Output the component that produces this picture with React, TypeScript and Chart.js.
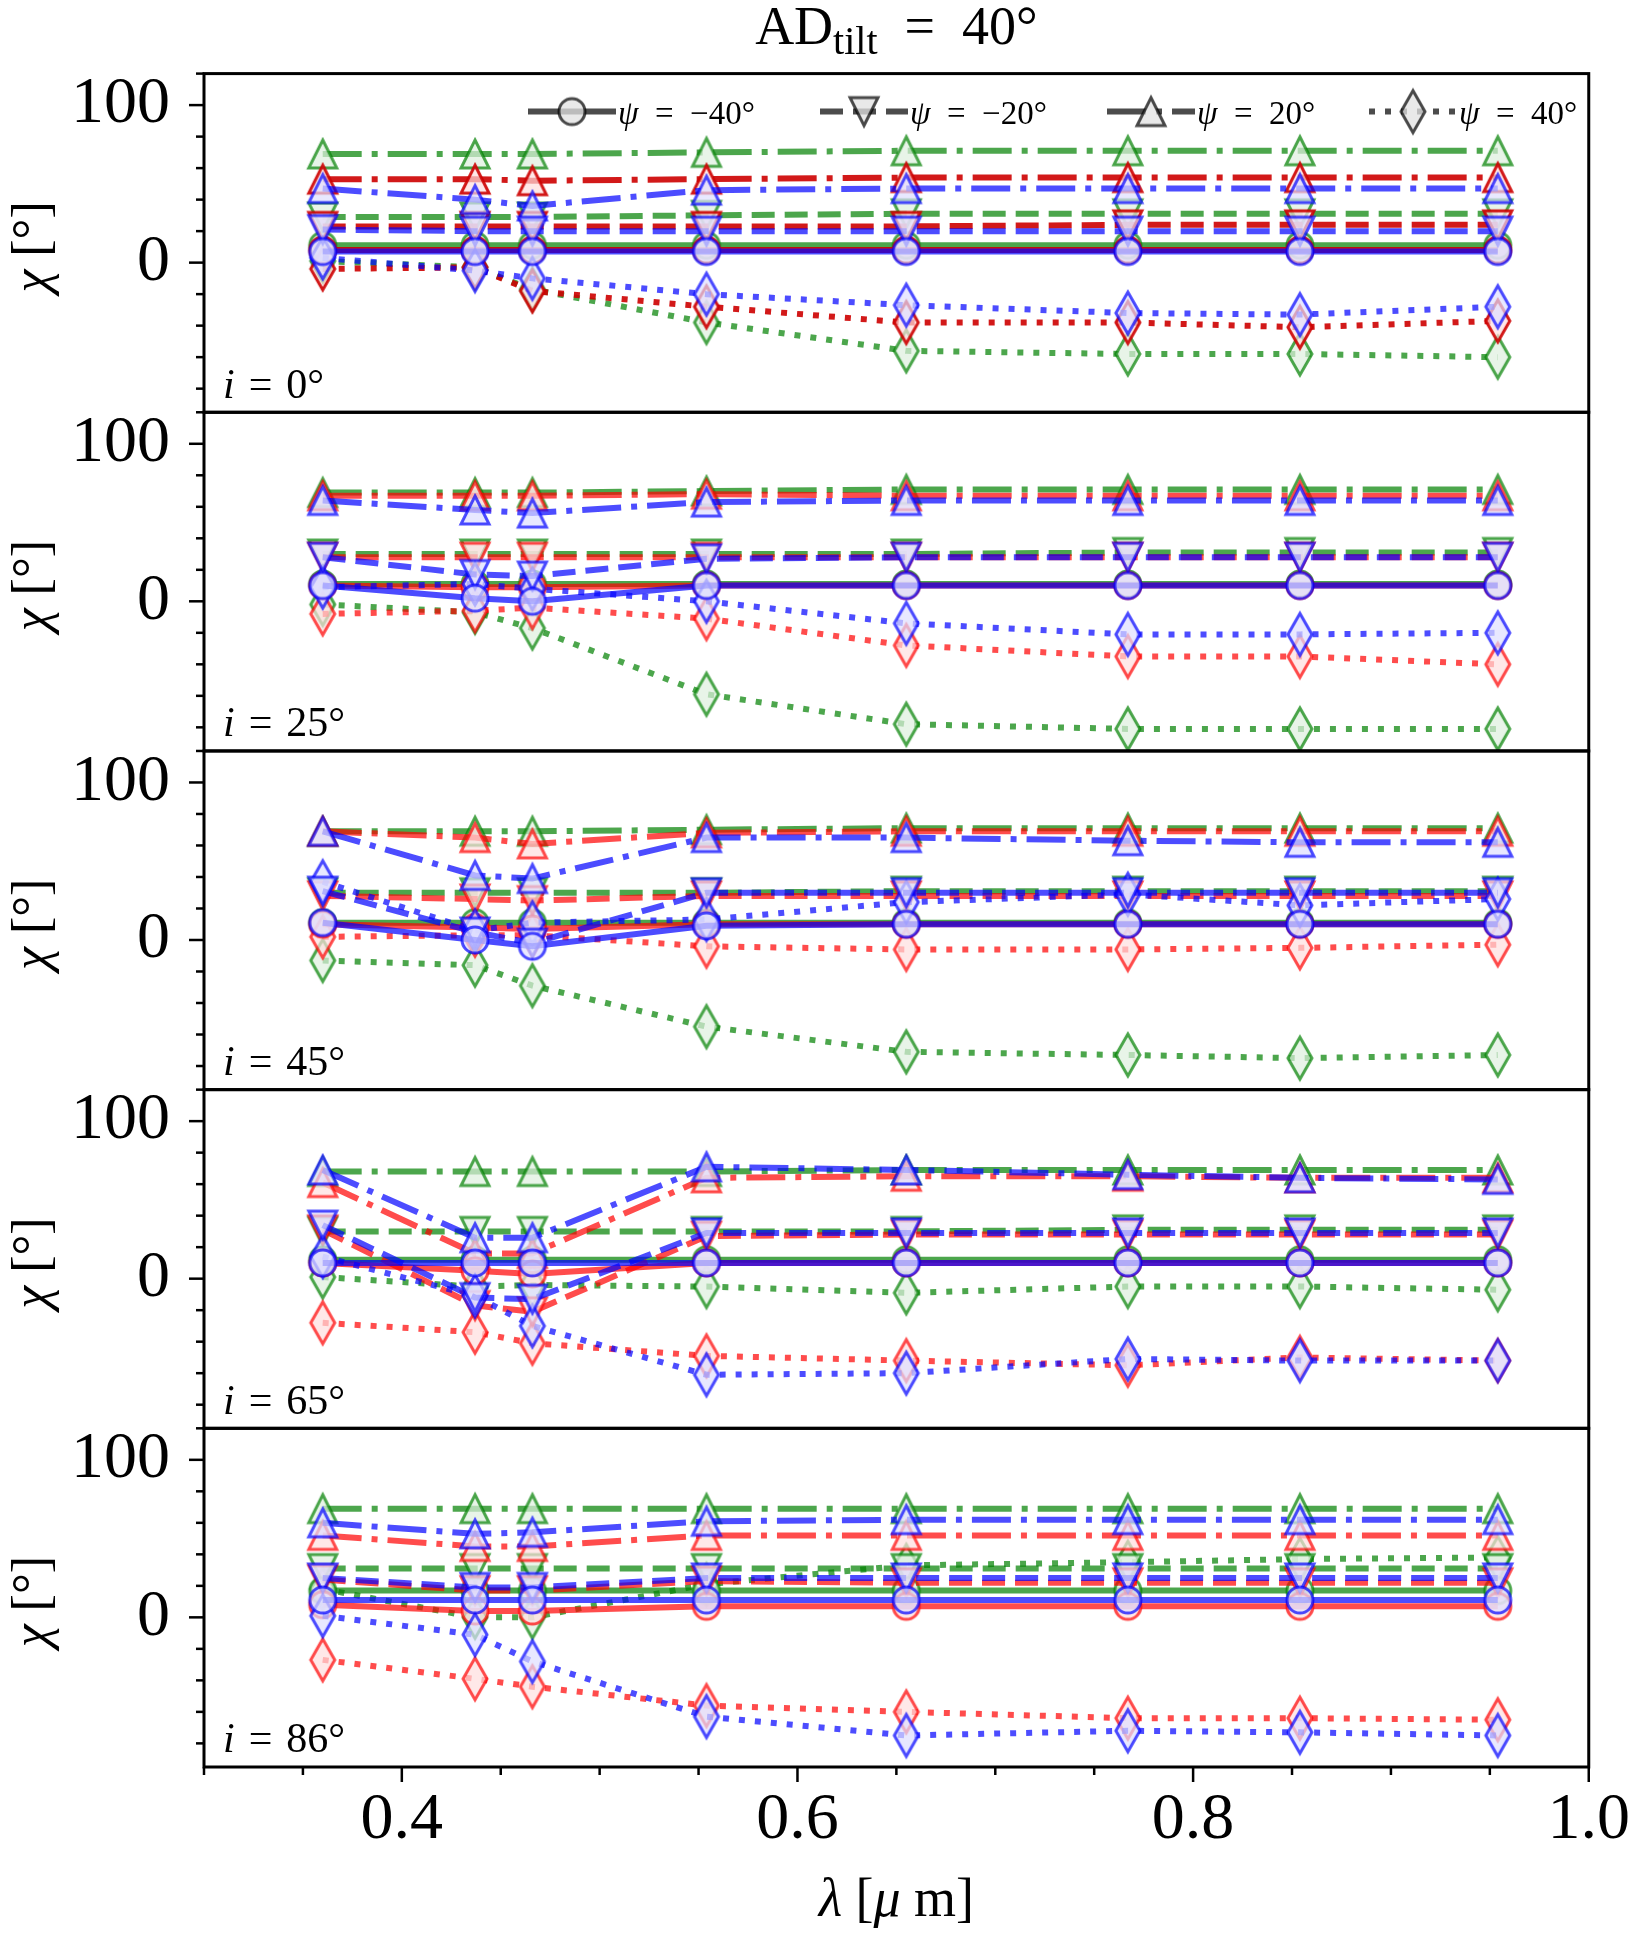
import { useEffect, useRef } from "react";
import { Chart, registerables, type Plugin } from "chart.js";

Chart.register(...registerables);

const FONT = "'Liberation Serif', 'Times New Roman', serif";

// filter wavelengths [μm]
const wavelengths = [0.36, 0.437, 0.466, 0.554, 0.655, 0.767, 0.854, 0.954];
const inclinations = [0, 25, 45, 65, 86];
const psiValues = [-40, -20, 20, 40];
const psiLabels = ["\u221240°", "\u221220°", "20°", "40°"];

// χ [°]; rows are ψ = -40, -20, 20, 40
const i0Green = [
    [11, 11, 11, 11, 11, 11, 11, 11],
    [29, 29, 29, 30, 31, 31, 31, 31],
    [69, 69, 69, 70, 71, 71, 71, 71],
    [1, -3, -17, -38, -56, -58, -58, -60],
];
const i0Red = [
    [8, 8, 8, 8, 8, 8, 8, 8],
    [23, 23, 23, 23, 23, 24, 24, 24],
    [53, 53, 52, 53, 54, 54, 54, 54],
    [-4, -3, -18, -28, -38, -38, -41, -37],
];
const i0Blue = [
    [7, 7, 7, 7, 7, 7, 7, 7],
    [21, 20, 20, 20, 20, 20, 20, 20],
    [47, 40, 36, 46, 47, 47, 47, 47],
    [3, -5, -10, -20, -27, -32, -33, -28],
];

const i25Green = [
    [11, 11, 11, 11, 11, 11, 11, 11],
    [30, 30, 30, 30, 30, 31, 31, 31],
    [69, 69, 69, 70, 71, 71, 71, 71],
    [-2, -7, -17, -59, -78, -81, -81, -81],
];
const i25Red = [
    [10, 9, 9, 10, 10, 10, 10, 10],
    [28, 28, 28, 28, 28, 28, 28, 28],
    [67, 67, 67, 68, 67, 67, 67, 67],
    [-8, -6, -4, -11, -28, -35, -35, -40],
];
const i25Blue = [
    [10, 2, 0, 10, 10, 10, 10, 10],
    [28, 17, 16, 27, 28, 28, 28, 28],
    [64, 58, 56, 63, 64, 64, 64, 64],
    [9, 11, 8, 0, -14, -21, -21, -20],
];

const i45Green = [
    [11, 11, 11, 11, 11, 11, 11, 11],
    [30, 30, 30, 30, 31, 31, 31, 31],
    [69, 69, 69, 70, 71, 71, 71, 71],
    [-13, -16, -29, -55, -71, -73, -75, -73],
];
const i45Red = [
    [10, 8, 7, 10, 10, 10, 10, 10],
    [28, 26, 25, 28, 28, 28, 28, 28],
    [69, 65, 61, 68, 69, 69, 69, 69],
    [2, 3, 3, -4, -6, -6, -5, -3],
];
const i45Blue = [
    [11, 0, -4, 9, 10, 10, 10, 10],
    [31, 5, -2, 30, 30, 30, 30, 30],
    [69, 41, 39, 65, 65, 63, 62, 62],
    [37, 6, 11, 13, 24, 29, 22, 26],
];

const i65Green = [
    [12, 12, 12, 12, 12, 12, 12, 12],
    [30, 30, 30, 30, 30, 31, 31, 31],
    [68, 68, 68, 68, 69, 69, 69, 69],
    [1, -5, -4, -5, -9, -5, -5, -7],
];
const i65Red = [
    [10, 5, 3, 10, 10, 10, 10, 10],
    [31, -17, -21, 27, 28, 28, 28, 28],
    [61, 16, 16, 64, 65, 65, 64, 64],
    [-28, -34, -41, -49, -52, -55, -50, -52],
];
const i65Blue = [
    [10, 10, 10, 10, 10, 10, 10, 10],
    [34, -12, -13, 29, 29, 29, 29, 29],
    [69, 26, 26, 71, 69, 66, 64, 63],
    [14, -11, -30, -61, -60, -51, -52, -52],
];

const i86Green = [
    [17, 17, 17, 17, 17, 17, 17, 17],
    [31, 31, 31, 31, 31, 31, 31, 31],
    [69, 69, 69, 69, 69, 69, 69, 69],
    [18, 0, 0, 21, 33, 35, 37, 38],
];
const i86Red = [
    [8, 4, 4, 7, 7, 7, 7, 7],
    [24, 17, 17, 23, 22, 22, 22, 22],
    [52, 45, 45, 52, 52, 52, 52, 52],
    [-27, -39, -44, -56, -60, -64, -64, -65],
];
const i86Blue = [
    [11, 11, 11, 11, 11, 11, 11, 11],
    [25, 19, 19, 25, 25, 25, 25, 25],
    [60, 53, 54, 61, 62, 62, 62, 62],
    [1, -11, -28, -63, -75, -72, -73, -75],
];

// blue first so it ends up on top
const panelValues = [
    [i0Blue, i0Red, i0Green],
    [i25Blue, i25Red, i25Green],
    [i45Blue, i45Red, i45Green],
    [i65Blue, i65Red, i65Green],
    [i86Blue, i86Red, i86Green],
];
const colourRgb = ["0,0,255", "255,0,0", "0,128,0"];
const faceRgb = ["222,222,255", "255,222,222", "222,240,222"];

const shapes = ["circle", "down", "up", "diamond"];
const dashes = [[], [23, 10], [39, 10, 6, 10], [6, 10]];

const markerCache = new Map<string, HTMLCanvasElement>();
function marker(shape: string, stroke: string, fill: string) {
    const key = shape + stroke + fill;
    const hit = markerCache.get(key);
    if (hit) return hit;
    const c = document.createElement("canvas");
    const w = shape === "diamond" ? 32 : 38;
    const h = shape === "diamond" ? 50 : 38;
    c.width = w;
    c.height = h;
    const g = c.getContext("2d")!;
    g.translate(w / 2, h / 2);
    g.beginPath();
    if (shape === "circle") g.arc(0, 0, 13, 0, Math.PI * 2);
    else if (shape === "up") { g.moveTo(0, -14); g.lineTo(14, 14); g.lineTo(-14, 14); g.closePath(); }
    else if (shape === "down") { g.moveTo(0, 14); g.lineTo(14, -14); g.lineTo(-14, -14); g.closePath(); }
    else { g.moveTo(0, -21); g.lineTo(12, 0); g.lineTo(0, 21); g.lineTo(-12, 0); g.closePath(); }
    g.fillStyle = fill;
    g.fill();
    g.lineWidth = 3;
    g.strokeStyle = stroke;
    g.stroke();
    markerCache.set(key, c);
    return c;
}

type Part = { t: string; it?: boolean; size?: number; dy?: number };

function drawParts(ctx: CanvasRenderingContext2D, parts: Part[], x: number, y: number, size: number, center: boolean) {
    const fontOf = (p: Part) => `${p.it ? "italic " : ""}${p.size ?? size}px ${FONT}`;
    let total = 0;
    for (const p of parts) {
        ctx.font = fontOf(p);
        total += ctx.measureText(p.t).width;
    }
    let cx = center ? x - total / 2 : x;
    ctx.textAlign = "left";
    ctx.textBaseline = "alphabetic";
    for (const p of parts) {
        ctx.font = fontOf(p);
        ctx.fillText(p.t, cx, y + (p.dy ?? 0));
        cx += ctx.measureText(p.t).width;
    }
}

const SP = "\u2004";
const EN = "\u2002";

const decorations: Plugin = {
    id: "decorations",
    afterDraw(chart) {
        const { ctx, chartArea } = chart;
        const xs = chart.scales.x;
        ctx.save();
        ctx.strokeStyle = "#000";
        ctx.fillStyle = "#000";
        ctx.setLineDash([]);

        inclinations.forEach((inc, p) => {
            const ys = chart.scales[`y${p}`];
            ctx.lineWidth = 2.5;
            ys.ticks.forEach(t => {
                const py = ys.getPixelForValue(t.value);
                const len = t.value % 100 === 0 ? 15 : 8;
                ctx.beginPath();
                ctx.moveTo(chartArea.left, py);
                ctx.lineTo(chartArea.left - len, py);
                ctx.stroke();
            });
            ctx.lineWidth = 3;
            ctx.strokeRect(chartArea.left, ys.top, chartArea.right - chartArea.left, ys.bottom - ys.top);

            drawParts(ctx, [{ t: "i", it: true }, { t: `${SP}=${SP}${inc}°` }], chartArea.left + 19, ys.top + 324, 42, false);

            ctx.save();
            ctx.translate(32, (ys.top + ys.bottom) / 2 + 4);
            ctx.rotate(-Math.PI / 2);
            drawParts(ctx, [{ t: "χ", it: true }, { t: " [°]" }], 0, 16, 52, true);
            ctx.restore();
        });

        ctx.lineWidth = 2.5;
        xs.ticks.forEach(t => {
            const px = xs.getPixelForValue(t.value);
            const k = Math.round(t.value * 100);
            const len = k % 20 === 0 && k >= 40 ? 15 : 8;
            ctx.beginPath();
            ctx.moveTo(px, chartArea.bottom);
            ctx.lineTo(px, chartArea.bottom + len);
            ctx.stroke();
        });

        // legend
        const top = chart.scales.y0.top;
        const legendX = [528, 820, 1107, 1369];
        psiLabels.forEach((lab, s) => {
            const lx = legendX[s];
            const ly = top + 38;
            ctx.save();
            ctx.strokeStyle = "rgba(0,0,0,0.7)";
            ctx.lineWidth = 6;
            ctx.setLineDash(dashes[s]);
            ctx.beginPath();
            ctx.moveTo(lx, ly);
            ctx.lineTo(lx + 88, ly);
            ctx.stroke();
            ctx.restore();
            const m = marker(shapes[s], "rgba(0,0,0,0.7)", "rgba(225,225,225,0.75)");
            ctx.drawImage(m, lx + 44 - m.width / 2, ly - m.height / 2);
            drawParts(ctx, [{ t: "ψ", it: true }, { t: `${EN}=${EN}${lab}` }], lx + 90, ly + 12, 33, false);
        });

        // title and x label
        const mid = (chartArea.left + chartArea.right) / 2;
        drawParts(ctx, [{ t: "AD" }, { t: "tilt", size: 40, dy: 10 }, { t: `${EN}=${EN}40°` }], mid, 44, 54, true);
        drawParts(ctx, [{ t: "λ", it: true }, { t: " [" }, { t: "μ", it: true }, { t: " m]" }], mid, 1916, 54, true);
        ctx.restore();
    },
};

export default function App() {
    const canvasRef = useRef<HTMLCanvasElement>(null);

    useEffect(() => {
        document.body.style.margin = "0";
        if (!canvasRef.current) return;

        const datasets: any[] = [];
        inclinations.forEach((inc, p) => {
            panelValues[p].forEach((rows, c) => {
                const rgb = p === 0 && c === 1 ? "205,0,0" : colourRgb[c];
                const alpha = p === 0 && c === 1 ? 0.9 : 0.7;
                const line = `rgba(${rgb},${alpha})`;
                const face = `rgba(${faceRgb[c]},0.7)`;
                psiValues.forEach((psi, s) => {
                    datasets.push({
                        label: `i=${inc} psi=${psi}`,
                        data: wavelengths.map((x, k) => ({ x, y: rows[s][k] })),
                        xAxisID: "x",
                        yAxisID: `y${p}`,
                        borderColor: line,
                        borderWidth: 6,
                        borderDash: dashes[s],
                        pointStyle: marker(shapes[s], line, face),
                        pointRadius: 14,
                        pointHoverRadius: 14,
                        tension: 0,
                        fill: false,
                    });
                });
            });
        });

        const scales: any = {
            x: {
                type: "linear",
                position: "bottom",
                min: 0.3,
                max: 1.0,
                grid: { display: false, drawTicks: false },
                border: { display: false },
                ticks: {
                    stepSize: 0.05,
                    autoSkip: false,
                    maxRotation: 0,
                    padding: 14,
                    color: "#000",
                    font: { family: FONT, size: 66 },
                    callback: (v: number) => {
                        const k = Math.round(v * 100);
                        return k >= 40 && k % 20 === 0 ? (k / 100).toFixed(1) : "";
                    },
                },
                afterFit: (s: any) => { s.height = 166; },
            },
        };
        inclinations.forEach((_, p) => {
            scales[`y${p}`] = {
                type: "linear",
                position: "left",
                stack: "panels",
                stackWeight: 1,
                weight: inclinations.length - p,
                min: -95,
                max: 120,
                grid: { display: false, drawTicks: false },
                border: { display: false },
                ticks: {
                    stepSize: 20,
                    includeBounds: false,
                    autoSkip: false,
                    padding: 34,
                    color: "#000",
                    font: { family: FONT, size: 66 },
                    callback: (v: number) => (v === 100 || v === 0 ? String(v) : ""),
                },
                afterFit: (s: any) => { s.width = 204; },
            };
        });

        const chart = new Chart(canvasRef.current, {
            type: "line",
            data: { datasets },
            options: {
                animation: false,
                responsive: true,
                maintainAspectRatio: false,
                events: [],
                layout: { padding: { top: 68, right: 40, left: 0, bottom: 0 } },
                plugins: { legend: { display: false }, tooltip: { enabled: false } },
                scales,
            },
            plugins: [decorations],
        });

        return () => { chart.destroy(); };
    }, []);

    return (
        <div style={{ position: "relative", width: 1644, height: 1933, background: "#fff" }}>
            <canvas ref={canvasRef} />
        </div>
    );
}
